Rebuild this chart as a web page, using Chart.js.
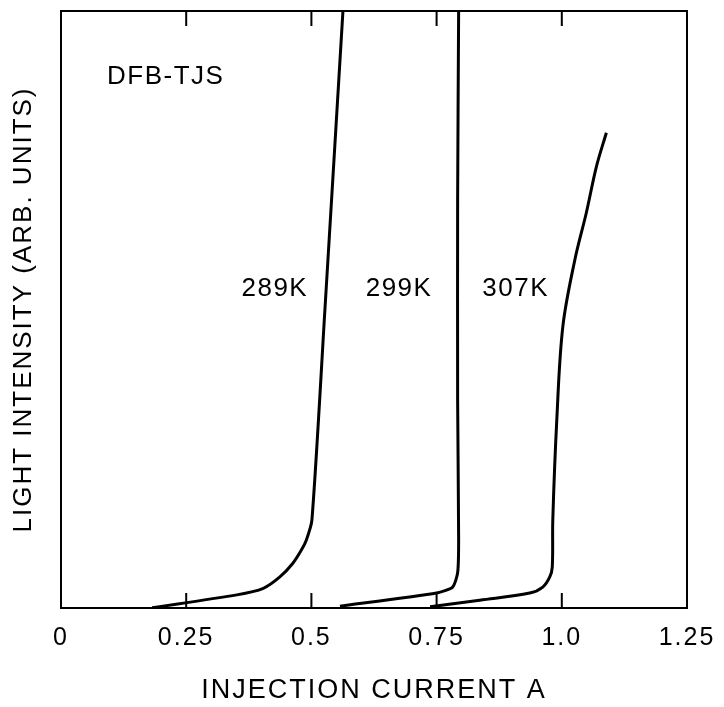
<!DOCTYPE html>
<html>
<head>
<meta charset="utf-8">
<script src="https://cdn.jsdelivr.net/npm/chart.js@4/dist/chart.umd.min.js"></script>
<style>
  html, body { margin: 0; padding: 0; background: #fff; }
  #wrap { width: 724px; height: 707px; }
</style>
</head>
<body>
<div id="wrap"><canvas id="chart"></canvas></div>
<script>
// injection current (A) / light intensity (arb. units, 0-100)
const x289 = [0.182, 0.351, 0.404, 0.437, 0.463, 0.480, 0.490, 0.501, 0.527, 0.563];
const y289 = [0.05, 2.2, 3.3, 5.2, 7.5, 9.7, 11.4, 14.7, 50.0, 100];

const x299 = [0.557, 0.750, 0.782, 0.792, 0.794, 0.792, 0.792, 0.794];
const y299 = [0.3, 2.5, 3.5, 5.9, 11.4, 34.8, 68.3, 100];

const x307 = [0.737, 0.836, 0.936, 0.962, 0.976, 0.981, 0.982, 0.990, 1.002, 1.026, 1.049, 1.069, 1.089];
const y307 = [0.2, 1.3, 2.5, 3.5, 5.2, 6.9, 14.7, 31.5, 47.1, 58.3, 66.2, 73.9, 79.6];

const xTicks = [0, 0.25, 0.5, 0.75, 1.0, 1.25];
const xTickLabels = ['0', '0.25', '0.5', '0.75', '1.0', '1.25'];
const innerTicks = [0.25, 0.5, 0.75, 1.0];

// text placed on the plot, in data units
const notes = [
    { text: 'DFB-TJS', x: 0.092, y: 88.9, align: 'left' },
    { text: '289K', x: 0.427, y: 53.4, align: 'center' },
    { text: '299K', x: 0.675, y: 53.4, align: 'center' },
    { text: '307K', x: 0.908, y: 53.4, align: 'center' }
];

const FONT = "'Liberation Sans', Arial, Helvetica, sans-serif";

function toPoints(xs, ys) {
    return xs.map((x, i) => ({ x: x, y: ys[i] }));
}

function curve(xs, ys, tension) {
    return {
        data: toPoints(xs, ys),
        showLine: true,
        borderColor: '#000',
        borderWidth: 3,
        pointRadius: 0,
        tension: tension,
        fill: false
    };
}

const framePlugin = {
    id: 'frame',
    beforeDraw(chart) {
        chart.ctx.letterSpacing = '2px';
    },
    afterDraw(chart) {
        const { ctx, chartArea: a, scales } = chart;
        ctx.save();
        ctx.strokeStyle = '#000';
        ctx.lineWidth = 2;
        ctx.strokeRect(a.left, a.top, a.right - a.left, a.bottom - a.top);

        // tick marks pointing into the plot
        innerTicks.forEach(v => {
            const px = scales.x.getPixelForValue(v);
            ctx.beginPath();
            ctx.moveTo(px, a.bottom);
            ctx.lineTo(px, a.bottom - 15);
            ctx.moveTo(px, a.top);
            ctx.lineTo(px, a.top + 15);
            ctx.stroke();
        });

        ctx.fillStyle = '#000';
        ctx.font = '26px ' + FONT;
        ctx.letterSpacing = '1.5px';
        ctx.textBaseline = 'middle';
        notes.forEach(n => {
            ctx.textAlign = n.align;
            ctx.fillText(n.text, scales.x.getPixelForValue(n.x), scales.y.getPixelForValue(n.y));
        });
        ctx.restore();
    }
};

new Chart(document.getElementById('chart'), {
    type: 'scatter',
    data: {
        datasets: [curve(x289, y289, 0.25), curve(x299, y299, 0.2), curve(x307, y307, 0.35)]
    },
    options: {
        responsive: true,
        maintainAspectRatio: false,
        animation: false,
        layout: { padding: { top: 11, right: 37, bottom: 0, left: 0 } },
        plugins: { legend: { display: false }, tooltip: { enabled: false } },
        scales: {
            x: {
                type: 'linear',
                min: 0,
                max: 1.25,
                afterBuildTicks: scale => { scale.ticks = xTicks.map(v => ({ value: v })); },
                afterFit: scale => { scale.height = 99; },
                grid: { display: false },
                border: { display: false },
                ticks: {
                    color: '#000',
                    padding: 7,
                    maxRotation: 0,
                    font: { family: FONT, size: 25 },
                    callback: (v) => {
                        const i = xTicks.findIndex(t => Math.abs(t - v) < 1e-6);
                        return i >= 0 ? xTickLabels[i] : '';
                    }
                },
                title: {
                    display: true,
                    text: 'INJECTION CURRENT A',
                    color: '#000',
                    font: { family: FONT, size: 27 },
                    padding: { top: 11, bottom: 0 }
                }
            },
            y: {
                min: 0,
                max: 100,
                afterFit: scale => { scale.width = 61; },
                grid: { display: false },
                border: { display: false },
                ticks: { display: false },
                title: {
                    display: true,
                    text: 'LIGHT INTENSITY (ARB. UNITS)',
                    color: '#000',
                    font: { family: FONT, size: 26 },
                    padding: { top: 8, bottom: 0 }
                }
            }
        }
    },
    plugins: [framePlugin]
});
</script>
</body>
</html>
